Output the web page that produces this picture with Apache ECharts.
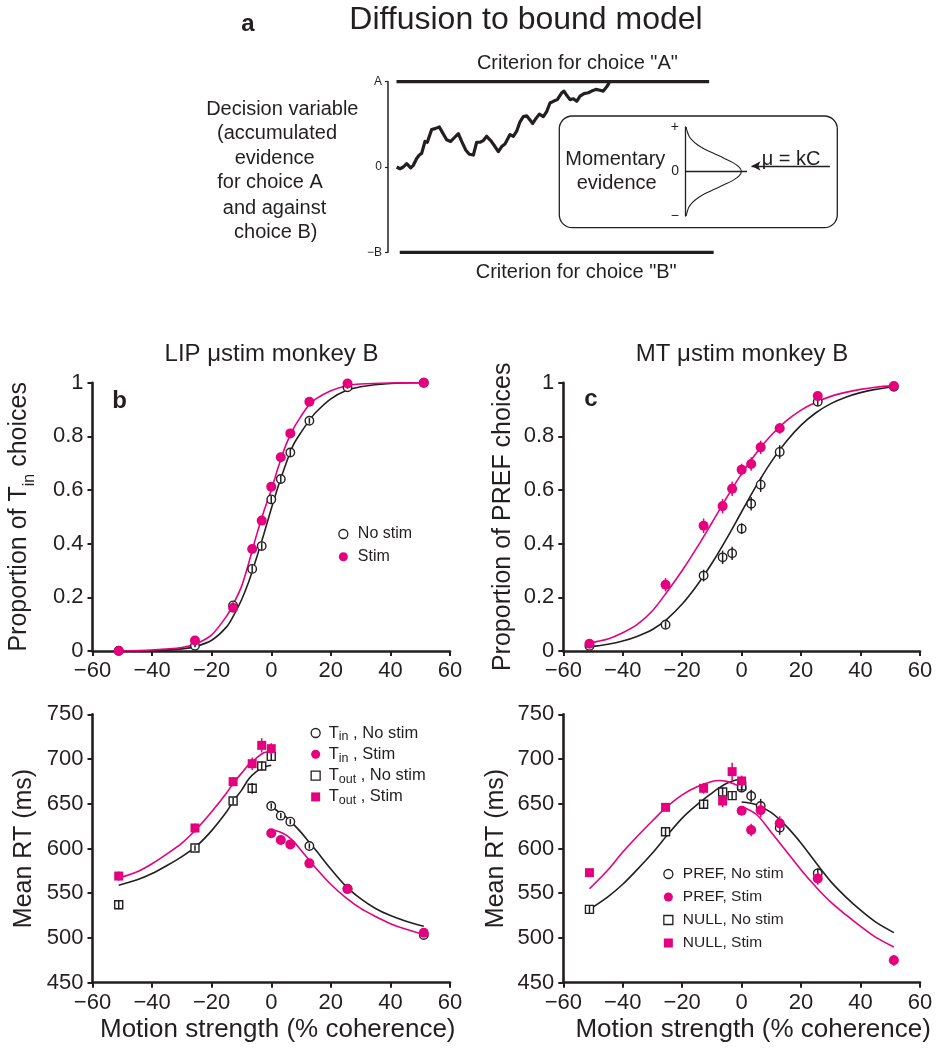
<!DOCTYPE html>
<html><head><meta charset="utf-8">
<script src="https://cdn.jsdelivr.net/npm/echarts@6/dist/echarts.min.js"></script>
<style>html,body{margin:0;padding:0;background:#fff}#c{width:940px;height:1050px}</style>
</head><body><div id="c"></div><script>
// ---------------- DATA ----------------
// Panel a: example decision-variable trajectory (time units 0-100, bound A = 1, -B = -1)
const walkX = [2.66,3.68,4.70,5.73,6.96,7.77,8.79,9.61,10.33,11.35,12.07,12.68,13.40,14.42,15.75,16.77,17.99,19.22,20.25,21.58,22.60,23.83,24.95,26.18,27.20,28.22,29.24,30.27,31.50,32.82,33.85,34.87,35.89,37.42,38.45,39.47,40.49,41.51,42.54,43.56,44.38,45.40,46.42,47.65,48.67,49.69,50.72,51.94,53.28,53.99,54.81,55.83,56.85,57.88,58.90,60.12,61.44,62.47,63.80,65.03,66.05,67.08,67.88];
const walkY = [0.00,-0.02,0.00,0.04,-0.01,0.02,0.10,0.14,0.16,0.30,0.29,0.36,0.44,0.45,0.47,0.40,0.32,0.30,0.34,0.39,0.30,0.20,0.15,0.14,0.29,0.29,0.31,0.36,0.31,0.24,0.18,0.24,0.27,0.38,0.36,0.42,0.53,0.59,0.60,0.55,0.51,0.57,0.62,0.59,0.65,0.75,0.77,0.79,0.87,0.89,0.84,0.79,0.80,0.77,0.83,0.86,0.87,0.89,0.91,0.90,0.89,0.94,0.99];
const boundAX = [2.6, 98.5];
const boundBX = [3.6, 99.9];
// inset: momentary evidence distribution (evidence -1..1, density)
const gaussEv = [-1,-0.9,-0.8,-0.7,-0.6,-0.5,-0.4,-0.3,-0.2,-0.1,0,0.1,0.2,0.3,0.4,0.5,0.6,0.7,0.8,0.9,1];
const gaussDens = [0.02,0.04,0.07,0.13,0.22,0.35,0.52,0.69,0.85,0.96,1,0.96,0.85,0.69,0.52,0.35,0.22,0.13,0.07,0.04,0.02];
const zeroLineX = [0, 1.1];
const arrowFromX = 2.57, arrowToX = 1.18, arrowEv = 0.124;

// Panels b-e: motion coherence (%)
const coh = [-51.2,-25.6,-12.8,-6.4,-3.2,0,3.2,6.4,12.8,25.6,51.2];
const cohNeg = [-51.2,-25.6,-12.8,-6.4,-3.2,0];
const cohPos = [0,3.2,6.4,12.8,25.6,51.2];
const cohPosMT = [0,3.2,6.4,12.8,25.6];

// b: LIP psychometric
const lipNoStim = [0.001,0.02,0.17,0.306,0.391,0.565,0.641,0.74,0.858,0.983,1.0];
const lipStim   = [0.0,0.039,0.161,0.38,0.486,0.612,0.722,0.811,0.929,0.997,1.0];
const lipNoStimErr = [0.004,0.006,0.012,0.014,0.014,0.014,0.014,0.013,0.011,0.005,0.002];
const lipStimErr   = [0.004,0.007,0.012,0.015,0.015,0.015,0.014,0.012,0.009,0.004,0.002];
const lipFitX = [-51.2,-40,-30,-25,-20,-15,-12.5,-10,-7.5,-5,-2.5,0,2.5,5,7.5,10,12.5,15,20,25,30,40,51.2];
const lipFitNoStim = [0.0005,0.002,0.008,0.018,0.04,0.09,0.135,0.19,0.26,0.345,0.435,0.53,0.62,0.70,0.77,0.815,0.855,0.89,0.94,0.97,0.985,0.997,1.0];
const lipFitStim   = [0.001,0.004,0.013,0.028,0.06,0.13,0.18,0.24,0.33,0.43,0.52,0.60,0.69,0.77,0.83,0.875,0.915,0.94,0.97,0.988,0.995,0.999,1.0];

// c: MT psychometric
const mtNoStim = [0.019,0.098,0.281,0.349,0.364,0.456,0.549,0.62,0.742,0.929,0.985];
const mtStim   = [0.027,0.247,0.467,0.54,0.605,0.676,0.697,0.759,0.83,0.95,0.988];
const mtNoStimErr = [0.008,0.012,0.022,0.025,0.025,0.02,0.025,0.027,0.025,0.014,0.006];
const mtStimErr   = [0.008,0.025,0.027,0.027,0.027,0.022,0.025,0.025,0.02,0.012,0.006];
const mtFitX = [-51.2,-45,-40,-35,-30,-25,-20,-15,-10,-5,0,5,10,15,20,25,30,35,40,45,51.2];
const mtFitNoStim = [0.015,0.025,0.037,0.055,0.08,0.12,0.175,0.245,0.327,0.42,0.519,0.617,0.706,0.781,0.842,0.888,0.922,0.946,0.963,0.975,0.985];
const mtFitStim   = [0.03,0.045,0.068,0.1,0.15,0.222,0.3,0.386,0.478,0.572,0.661,0.739,0.805,0.858,0.898,0.927,0.949,0.964,0.975,0.983,0.989];

// d: LIP reaction times (ms)
const lipRtTinNoStim  = [647.5,636.7,630.0,602.8,555.1,503.3];
const lipRtTinStim    = [617.0,609.5,604.6,583.4,554.7,505.9];
const lipRtToutNoStim = [537.2,600.5,653.1,667.3,692.2,703.0];
const lipRtToutStim   = [569.2,622.9,674.7,694.8,715.3,711.6];
const lipRtTinNoStimErr  = [3,3,3,3,2,2];
const lipRtTinStimErr    = [4,4,4,3,3,3];
const lipRtToutNoStimErr = [5,3,4,6,5,5];
const lipRtToutStimErr   = [5,5,5,7,8,6];
const rtFitNegX = [-51.2,-45,-40,-35,-30,-25,-20,-15,-12.5,-10,-7.5,-5,-2.5,0];
const rtFitPosX = [0,2.5,5,7.5,10,12.5,15,20,25,30,35,40,45,51.2];
const lipFitToutNoStim = [559,565,572,581,591,603,620,641,654,665,678,686,691,693];
const lipFitToutStim   = [567,574,583,594,606,622,641,662,674,684,694,701,707,709];
const lipFitTinNoStim  = [647,641,635,627,618,608,598,577,558,544,533,525,519,513];
const lipFitTinStim    = [621,619,615,608,598,588,578,560,545,533,524,516,510,504];

// e: MT reaction times (ms)
const mtRtPrefNoStim = [668.0,658.7,647.5,623.3,572.2];
const mtRtPrefStim   = [642.3,620.7,642.7,628.1,566.6,475.0];
const mtRtNullNoStim = [532.0,618.8,649.4,663.2,659.1,670.0];
const mtRtNullStim   = [573.0,646.0,667.3,653.1,685.9,675.5];
const mtRtPrefNoStimErr = [5,7,8,8,6];
const mtRtPrefStimErr   = [5,7,8,8,7,6];
const mtRtNullNoStimErr = [4,4,5,5,5,5];
const mtRtNullStimErr   = [4,4,6,7,10,6];
const mtFitNegX = [-51.2,-45,-40,-35,-30,-25,-20,-15,-10,-7.5,-5,-2.5,0];
const mtFitPosX = [0,5,10,15,20,25,30,35,40,45,51.2];
const mtFitNullNoStim = [532,546,560,577,595,615,634,649,662,668,673,676,678];
const mtFitNullStim   = [555,576,596,614,631,647,660,669,675,676,675,672,668];
const mtFitPrefNoStim = [652,649,640,625,606,584,563,546,531,518,506];
const mtFitPrefStim   = [647,638,618,597,576,557,540,526,513,501,490];

const xTicks = {min:-60, max:60, step:20};
const pTicks = {min:0, max:1, step:0.2};
const rtTicks = {min:450, max:750, step:50};

// ---------------- STYLE ----------------
const K = '#231f20', P = '#e5007d';
const F = '"Liberation Sans", Arial, Helvetica, sans-serif';

const pts = (xs, ys) => xs.map((x, i) => [x, ys[i]]);
function fit(idx, xs, ys, color) {
  return {type:'line', xAxisIndex:idx, yAxisIndex:idx, data:pts(xs, ys), smooth:0.3, symbol:'none', silent:true,
          lineStyle:{color:color, width:1.6}, z:2};
}
function openPts(name, idx, xs, ys, symbol, size) {
  return {type:'scatter', name:name, xAxisIndex:idx, yAxisIndex:idx, data:pts(xs, ys), symbol:symbol, symbolSize:size,
          itemStyle:{color:'#fff', borderColor:K, borderWidth:1.4, opacity:1}, z:3, silent:true};
}
function fillPts(name, idx, xs, ys, symbol, size) {
  return {type:'scatter', name:name, xAxisIndex:idx, yAxisIndex:idx, data:pts(xs, ys), symbol:symbol, symbolSize:size,
          itemStyle:{color:P, opacity:1}, z:5, silent:true};
}
function errBars(idx, xs, ys, es, color, z) {
  return {type:'custom', xAxisIndex:idx, yAxisIndex:idx, silent:true, z:z,
    data: xs.map((x, i) => [x, ys[i] - es[i], ys[i] + es[i]]),
    renderItem: function (p, api) {
      const a = api.coord([api.value(0), api.value(1)]);
      const b = api.coord([api.value(0), api.value(2)]);
      return {type:'line', shape:{x1:a[0], y1:a[1], x2:b[0], y2:b[1]}, style:{stroke:color, lineWidth:1.5}};
    }};
}
const minus = v => (v < 0 ? '\u2212' : '') + Math.abs(v);

function xAx(idx, withName, padL) {
  const ax = {type:'value', gridIndex:idx, min:xTicks.min, max:xTicks.max, interval:xTicks.step,
    axisLine:{onZero:false, lineStyle:{color:K, width:2.6}},
    axisTick:{length:5, lineStyle:{color:K, width:2}},
    axisLabel:{fontSize:22, color:K, fontFamily:F, margin:9, formatter:minus},
    splitLine:{show:false}};
  if (withName) {
    ax.name = 'Motion strength (% coherence)';
    ax.nameLocation = 'middle';
    ax.nameGap = 30;
    ax.nameTextStyle = {fontSize:26, color:K, fontFamily:F, lineHeight:30, padding:[0,0,0,padL]};
  }
  return ax;
}
function yAx(idx, t, name, gap, rich) {
  const ax = {type:'value', gridIndex:idx, min:t.min, max:t.max, interval:t.step,
    axisLine:{show:true, onZero:false, lineStyle:{color:K, width:2.6}},
    axisTick:{show:true, length:5, lineStyle:{color:K, width:2}},
    axisLabel:{fontSize:22, color:K, fontFamily:F, margin:9},
    splitLine:{show:false},
    name:name, nameLocation:'middle', nameGap:gap,
    nameTextStyle: rich ? {rich:rich} : {fontSize:25, color:K, fontFamily:F, lineHeight:26}};
  return ax;
}

const legendNames = {
  'LIP No stim':'No stim', 'LIP Stim':'Stim',
  'Tin No stim':'{t|T}{s|in}{t| , No stim}', 'Tin Stim':'{t|T}{s|in}{t| , Stim}',
  'Tout No stim':'{t|T}{s|out}{t| , No stim}', 'Tout Stim':'{t|T}{s|out}{t| , Stim}',
  'PREF No stim':'PREF, No stim', 'PREF Stim':'PREF, Stim',
  'NULL No stim':'NULL, No stim', 'NULL Stim':'NULL, Stim'
};
const openIcon = {color:'#fff', borderColor:K, borderWidth:1.3};
const fillIcon = {color:P, borderWidth:0};

function txt(x, y, s, size, opts) {
  opts = opts || {};
  return {type:'text', x:x, y:y, silent:true, rotation: opts.rot || 0,
    style:{text:s, fill:K, fontSize:size, fontFamily:F, fontWeight: opts.bold ? 'bold' : 'normal',
           align: opts.align || 'center', verticalAlign:'middle'}};
}

const option = {
  animation:false,
  backgroundColor:'#fff',
  grid:[
    {left:92.5, top:382.7, width:357.5, height:268.3},
    {left:563.3, top:382.7, width:356.7, height:268.3},
    {left:92.5, top:714.3, width:357.5, height:268.4},
    {left:563.3, top:714.3, width:356.7, height:268.4},
    {left:388, top:81.7, width:326, height:170.6},
    {left:685, top:127, width:146.6, height:89}
  ],
  xAxis:[
    xAx(0, false), xAx(1, false), xAx(2, true, 13), xAx(3, true, 23),
    {type:'value', gridIndex:4, min:0, max:100, show:false},
    {type:'value', gridIndex:5, min:0, max:2.6, show:false}
  ],
  yAxis:[
    yAx(0, pTicks, '{t|Proportion of T}{s|in}{t| choices}', 54.6,
        {t:{fontSize:25, color:K, fontFamily:F, lineHeight:37}, s:{fontSize:16, color:K, fontFamily:F, lineHeight:4, verticalAlign:'bottom'}}),
    yAx(1, pTicks, 'Proportion of PREF choices', 47),
    yAx(2, rtTicks, 'Mean RT (ms)', 55),
    yAx(3, rtTicks, 'Mean RT (ms)', 54),
    {type:'value', gridIndex:4, min:-1, max:1, interval:1,
     axisLine:{show:true, onZero:false, lineStyle:{color:K, width:1.5}},
     axisTick:{show:true, length:3, lineStyle:{color:K, width:1.2}},
     axisLabel:{fontSize:12, color:K, fontFamily:F, margin:6, formatter: v => ({'1':'A','0':'0','-1':'\u2212B'})[String(v)]},
     splitLine:{show:false}},
    {type:'value', gridIndex:5, min:-1, max:1, interval:1,
     axisLine:{show:true, onZero:false, lineStyle:{color:K, width:1.3}},
     axisTick:{show:false},
     axisLabel:{fontSize:14, color:K, fontFamily:F, margin:6, formatter: v => ({'1':'+','0':'0','-1':'\u2212'})[String(v)]},
     splitLine:{show:false}}
  ],
  legend:[
    {left:338.2, top:525, padding:0, orient:'vertical', itemWidth:9, itemHeight:9, itemGap:4.7, selectedMode:false,
     textStyle:{fontSize:16, color:K, fontFamily:F, lineHeight:18, padding:[0,0,0,5]},
     formatter:n => legendNames[n],
     data:[{name:'LIP No stim', icon:'circle', itemStyle:openIcon}, {name:'LIP Stim', icon:'circle', itemStyle:fillIcon}]},
    {left:310.5, top:724.5, padding:0, orient:'vertical', itemWidth:9, itemHeight:9, itemGap:2.3, selectedMode:false,
     textStyle:{fontSize:16.5, color:K, fontFamily:F, padding:[0,0,0,3.5],
       rich:{t:{fontSize:16.5, color:K, fontFamily:F, lineHeight:21}, s:{fontSize:12.5, color:K, fontFamily:F, lineHeight:6, verticalAlign:'bottom'}}},
     formatter:n => legendNames[n],
     data:[{name:'Tin No stim', icon:'circle', itemStyle:openIcon}, {name:'Tin Stim', icon:'circle', itemStyle:fillIcon},
           {name:'Tout No stim', icon:'rect', itemStyle:openIcon}, {name:'Tout Stim', icon:'rect', itemStyle:fillIcon}]},
    {left:663.2, top:865, padding:0, orient:'vertical', itemWidth:9, itemHeight:9, itemGap:5, selectedMode:false,
     textStyle:{fontSize:15.5, color:K, fontFamily:F, lineHeight:18, padding:[0,0,0,5]},
     formatter:n => legendNames[n],
     data:[{name:'PREF No stim', icon:'circle', itemStyle:openIcon}, {name:'PREF Stim', icon:'circle', itemStyle:fillIcon},
           {name:'NULL No stim', icon:'rect', itemStyle:openIcon}, {name:'NULL Stim', icon:'rect', itemStyle:fillIcon}]}
  ],
  series:[
    // panel a
    {type:'line', xAxisIndex:4, yAxisIndex:4, data:pts(boundAX, [1,1]), symbol:'none', silent:true, lineStyle:{color:K, width:3.2}},
    {type:'line', xAxisIndex:4, yAxisIndex:4, data:pts(boundBX, [-1,-1]), symbol:'none', silent:true, lineStyle:{color:K, width:3.2}},
    {type:'line', xAxisIndex:4, yAxisIndex:4, data:pts(walkX, walkY), symbol:'none', silent:true, lineStyle:{color:K, width:3.2, join:'round'}},
    {type:'line', xAxisIndex:5, yAxisIndex:5, data:pts(gaussDens, gaussEv), smooth:0.3, symbol:'none', silent:true, lineStyle:{color:K, width:1.1}},
    {type:'line', xAxisIndex:5, yAxisIndex:5, data:pts(zeroLineX, [0,0]), symbol:'none', silent:true, lineStyle:{color:K, width:1.3},
     markLine:{silent:true, symbol:['none','arrow'], symbolSize:[7,9], label:{show:false},
       lineStyle:{color:K, width:1.3, type:'solid'},
       data:[[{coord:[arrowFromX, arrowEv]}, {coord:[arrowToX, arrowEv]}]]}},
    // panel b
    fit(0, lipFitX, lipFitNoStim, K), fit(0, lipFitX, lipFitStim, P),
    openPts('LIP No stim', 0, coh, lipNoStim, 'circle', 8.5),
    errBars(0, coh, lipNoStim, lipNoStimErr, K, 4),
    fillPts('LIP Stim', 0, coh, lipStim, 'circle', 10),
    errBars(0, coh, lipStim, lipStimErr, P, 6),
    // panel c
    fit(1, mtFitX, mtFitNoStim, K), fit(1, mtFitX, mtFitStim, P),
    openPts('MT No stim', 1, coh, mtNoStim, 'circle', 8.5),
    errBars(1, coh, mtNoStim, mtNoStimErr, K, 4),
    fillPts('MT Stim', 1, coh, mtStim, 'circle', 10),
    errBars(1, coh, mtStim, mtStimErr, P, 6),
    // panel d
    fit(2, rtFitNegX, lipFitToutNoStim, K), fit(2, rtFitNegX, lipFitToutStim, P),
    fit(2, rtFitPosX, lipFitTinNoStim, K), fit(2, rtFitPosX, lipFitTinStim, P),
    openPts('Tin No stim', 2, cohPos, lipRtTinNoStim, 'circle', 8.5),
    errBars(2, cohPos, lipRtTinNoStim, lipRtTinNoStimErr, K, 4),
    openPts('Tout No stim', 2, cohNeg, lipRtToutNoStim, 'rect', 8),
    errBars(2, cohNeg, lipRtToutNoStim, lipRtToutNoStimErr, K, 4),
    fillPts('Tin Stim', 2, cohPos, lipRtTinStim, 'circle', 10),
    errBars(2, cohPos, lipRtTinStim, lipRtTinStimErr, P, 6),
    fillPts('Tout Stim', 2, cohNeg, lipRtToutStim, 'rect', 9),
    errBars(2, cohNeg, lipRtToutStim, lipRtToutStimErr, P, 6),
    // panel e
    fit(3, mtFitNegX, mtFitNullNoStim, K), fit(3, mtFitNegX, mtFitNullStim, P),
    fit(3, mtFitPosX, mtFitPrefNoStim, K), fit(3, mtFitPosX, mtFitPrefStim, P),
    openPts('PREF No stim', 3, cohPosMT, mtRtPrefNoStim, 'circle', 8.5),
    errBars(3, cohPosMT, mtRtPrefNoStim, mtRtPrefNoStimErr, K, 4),
    openPts('NULL No stim', 3, cohNeg, mtRtNullNoStim, 'rect', 8),
    errBars(3, cohNeg, mtRtNullNoStim, mtRtNullNoStimErr, K, 4),
    fillPts('PREF Stim', 3, cohPos, mtRtPrefStim, 'circle', 10),
    errBars(3, cohPos, mtRtPrefStim, mtRtPrefStimErr, P, 6),
    fillPts('NULL Stim', 3, cohNeg, mtRtNullStim, 'rect', 9),
    errBars(3, cohNeg, mtRtNullStim, mtRtNullStimErr, P, 6)
  ],
  graphic:[
    txt(248, 24, 'a', 24, {bold:true}),
    txt(526, 20, 'Diffusion to bound model', 32),
    txt(577.4, 63.5, 'Criterion for choice "A"', 20),
    txt(576.2, 272, 'Criterion for choice "B"', 20),
    txt(282.3, 109.3, 'Decision variable', 20),
    txt(277, 133.5, '(accumulated', 20),
    txt(274.7, 158.3, 'evidence', 20),
    txt(270, 182.7, 'for choice A', 20),
    txt(274.5, 208, 'and against', 20),
    txt(275.8, 232.5, 'choice B)', 20),
    {type:'rect', silent:true, shape:{x:559.3, y:116, width:278, height:111.7, r:13},
     style:{fill:'none', stroke:K, lineWidth:1.3}},
    txt(615.3, 159.3, 'Momentary', 20),
    txt(616.7, 183.3, 'evidence', 20),
    txt(761.7, 159.3, '\u03bc = kC', 20, {align:'left'}),
    txt(271.5, 354.4, 'LIP \u03bcstim monkey B', 24),
    txt(742, 354.4, 'MT \u03bcstim monkey B', 24),
    txt(119.7, 401.7, 'b', 24, {bold:true}),
    txt(590.8, 399, 'c', 24, {bold:true})
  ]
};
const chart = echarts.init(document.getElementById('c'), null, {renderer:'canvas'});
chart.setOption(option);
</script></body></html>
